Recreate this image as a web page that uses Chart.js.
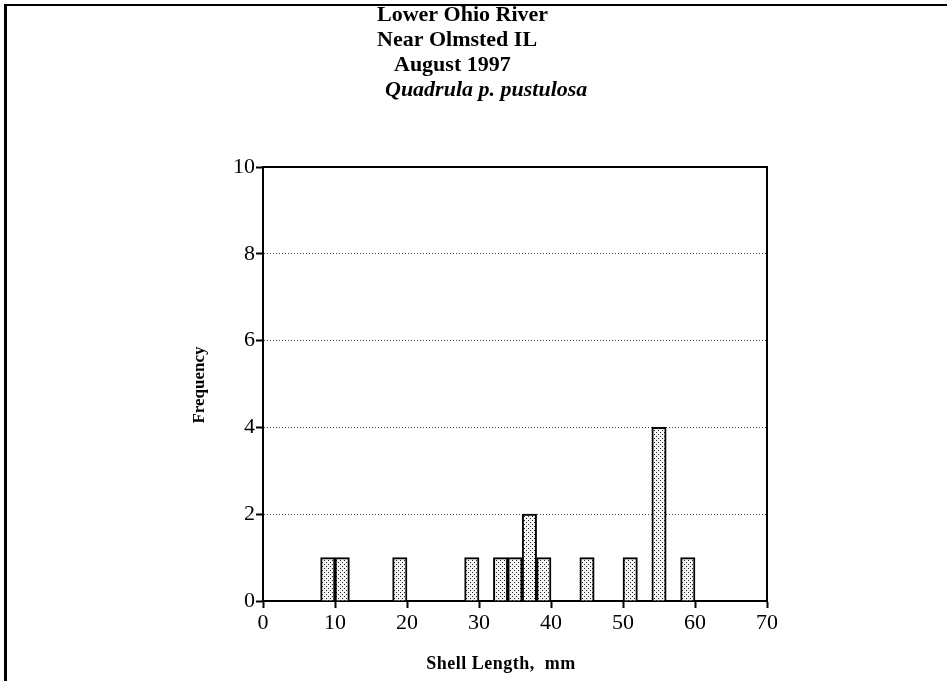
<!DOCTYPE html>
<html lang="en">
<head>
    <meta charset="UTF-8">
    <title>Quadrula p. pustulosa - Shell Length</title>
    <script src="https://cdn.jsdelivr.net/npm/chart.js"></script>
    <style>
        body {
            margin: 0;
            background: #fff;
        }
        .wrap {
            position: relative;
            width: 947px;
            height: 681px;
        }
    </style>
</head>
<body>
    <div class="wrap">
        <canvas id="histChart" width="947" height="681"></canvas>
    </div>

    <script>
        // Shell length bins (centre of each 2 mm class) and counts
        const binCenters = [9, 11, 19, 29, 33, 35, 37, 39, 45, 51, 55, 59];
        const counts = [1, 1, 1, 1, 1, 1, 2, 1, 1, 1, 4, 1];
        const xTicks = [0, 10, 20, 30, 40, 50, 60, 70];
        const yTicks = [0, 2, 4, 6, 8, 10];
        const titleLines = ['Lower Ohio River', 'Near Olmsted IL', 'August 1997', 'Quadrula p. pustulosa'];
        const xTitle = 'Shell Length,  mm';
        const yTitle = 'Frequency';

        const serif = "'Liberation Serif', 'Times New Roman', serif";

        // stipple fill for the bars
        function makeStipple() {
            const c = document.createElement('canvas');
            c.width = 4;
            c.height = 4;
            const g = c.getContext('2d');
            g.fillStyle = '#f4f4f4';
            g.fillRect(0, 0, 4, 4);
            g.fillStyle = '#222';
            g.fillRect(0, 0, 1, 1);
            g.fillRect(2, 2, 1, 1);
            return g.createPattern(c, 'repeat');
        }

        // page frame, title block, axis titles and top/right plot border
        const decor = {
            id: 'decor',
            beforeDraw(chart) {
                const ctx = chart.ctx;
                ctx.save();
                ctx.fillStyle = '#fff';
                ctx.fillRect(0, 0, chart.width, chart.height);
                ctx.fillStyle = '#000';
                ctx.fillRect(4, 4, 3, chart.height - 4);
                ctx.fillRect(4, 4, chart.width - 4, 2);

                ctx.textBaseline = 'alphabetic';
                ctx.textAlign = 'left';
                const lefts = [377, 377, 394, 385];
                titleLines.forEach((t, i) => {
                    ctx.font = (i === 3 ? 'italic bold ' : 'bold ') + '22px ' + serif;
                    ctx.fillText(t, lefts[i], 21 + i * 25);
                });
                ctx.restore();
            },
            afterDraw(chart) {
                const { ctx, chartArea: a } = chart;
                ctx.save();
                ctx.strokeStyle = '#000';
                ctx.lineWidth = 2;
                ctx.beginPath();
                ctx.moveTo(a.left, a.top);
                ctx.lineTo(a.right, a.top);
                ctx.lineTo(a.right, a.bottom);
                ctx.stroke();

                ctx.fillStyle = '#000';
                ctx.textAlign = 'center';
                ctx.textBaseline = 'middle';
                ctx.font = 'bold 18px ' + serif;
                ctx.letterSpacing = '0.5px';
                ctx.fillText(xTitle, 501, 664);

                ctx.translate(200, 385);
                ctx.rotate(-Math.PI / 2);
                ctx.font = 'bold 17px ' + serif;
                ctx.letterSpacing = '0px';
                ctx.fillText(yTitle, 0, 0);
                ctx.restore();
            }
        };

        const ctx = document.getElementById('histChart').getContext('2d');
        new Chart(ctx, {
            type: 'bar',
            data: {
                datasets: [{
                    data: binCenters.map((x, i) => ({ x: x, y: counts[i] })),
                    backgroundColor: makeStipple(),
                    borderColor: '#000',
                    borderWidth: 2,
                    borderSkipped: 'bottom',
                    barPercentage: 1,
                    categoryPercentage: 1
                }]
            },
            options: {
                responsive: false,
                animation: false,
                layout: {
                    padding: { top: 167, right: 180, bottom: 0, left: 0 }
                },
                plugins: {
                    legend: { display: false },
                    tooltip: { enabled: false }
                },
                scales: {
                    x: {
                        type: 'linear',
                        min: 0,
                        max: 70,
                        offset: false,
                        afterBuildTicks: (s) => { s.ticks = xTicks.map(v => ({ value: v })); },
                        afterFit: (s) => { s.height = 80; },
                        ticks: {
                            color: '#000',
                            padding: 2,
                            font: { family: serif, size: 22 }
                        },
                        grid: {
                            offset: false,
                            drawOnChartArea: false,
                            tickLength: 7,
                            tickColor: '#000',
                            tickWidth: 2
                        },
                        border: { display: true, color: '#000', width: 2 }
                    },
                    y: {
                        min: 0,
                        max: 10,
                        afterBuildTicks: (s) => { s.ticks = yTicks.map(v => ({ value: v })); },
                        afterFit: (s) => { s.width = 263; },
                        ticks: {
                            color: '#000',
                            padding: 1,
                            font: { family: serif, size: 22 }
                        },
                        grid: {
                            color: (c) => (c.tick && (c.tick.value === 0 || c.tick.value === 10)) ? 'rgba(0,0,0,0)' : '#444',
                            lineWidth: 1,
                            tickLength: 7,
                            tickColor: '#000',
                            tickWidth: 2,
                            tickBorderDash: []
                        },
                        border: { display: true, color: '#000', width: 2, dash: [1, 2] }
                    }
                }
            },
            plugins: [decor]
        });
    </script>
</body>
</html>
